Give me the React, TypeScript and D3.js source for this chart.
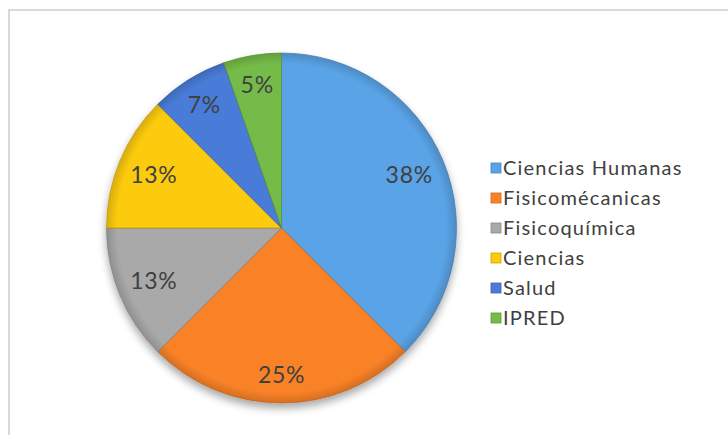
import React from "react";
import * as d3 from "d3";

const categories = ["Ciencias Humanas", "Fisicomécanicas", "Fisicoquímica", "Ciencias", "Salud", "IPRED"];
const counts = [21, 14, 7, 7, 4, 3];
const colors = ["#5aa3e6", "#fa8228", "#a9a9a9", "#fdcb0a", "#4a7cd8", "#74bb48"];

const W = 728;
const H = 435;
const CX = 281.5;
const CY = 228;
const R = 175;
const FONT = "Lato, 'Open Sans', sans-serif";

export default function App() {
  const total = d3.sum(counts);
  const pie = d3.pie<number>().sort(null).value((d) => d)(counts);
  const arc = d3.arc<d3.PieArcDatum<number>>().innerRadius(0).outerRadius(R);
  const labelPos = (d: d3.PieArcDatum<number>) => {
    const span = d.endAngle - d.startAngle;
    const a = (d.startAngle + d.endAngle) / 2;
    const bottom = -Math.cos(a);
    const k = span < 0.5 ? 0.83 : bottom > 0.9 ? 0.84 : 0.79;
    return [Math.sin(a) * R * k, -Math.cos(a) * R * k];
  };
  return (
    <svg width={W} height={H} style={{ position: "absolute", left: 0, top: 0, background: "#fff" }}>
      <defs>
        <filter id="shadow" x="-20%" y="-20%" width="140%" height="140%">
          <feGaussianBlur in="SourceAlpha" stdDeviation="4" />
          <feOffset dx="0" dy="5" result="b" />
          <feComponentTransfer>
            <feFuncA type="linear" slope="0.35" />
          </feComponentTransfer>
          <feMerge>
            <feMergeNode />
            <feMergeNode in="SourceGraphic" />
          </feMerge>
        </filter>
        {colors.map((c, i) => (
          <radialGradient key={i} id={`g${i}`} cx={0} cy={0} r={R} gradientUnits="userSpaceOnUse">
            <stop offset="0%" stopColor={c} />
            <stop offset="94%" stopColor={c} />
            <stop offset="100%" stopColor={d3.color(c)!.darker(0.45).toString()} />
          </radialGradient>
        ))}
      </defs>
      <rect x={9} y={10} width={W + 20} height={H + 20} fill="#fff" stroke="#d9d9d9" strokeWidth={2} />
      <g transform={`translate(${CX},${CY})`}>
        <g filter="url(#shadow)">
          {pie.map((d, i) => (
            <path
              key={i}
              d={arc(d) || ""}
              fill={`url(#g${i})`}
              stroke={d3.color(colors[i])!.darker(0.8).toString()}
              strokeWidth={1}
              strokeOpacity={0.7}
            />
          ))}
        </g>
        {pie.map((d, i) => {
          const [x, y] = labelPos(d);
          return (
            <text
              key={i}
              x={x}
              y={y}
              dy="0.35em"
              textAnchor="middle"
              fontFamily={FONT}
              fontSize={23}
              letterSpacing={0.7}
              fill="#404040"
            >
              {Math.round((d.data / total) * 100)}%
            </text>
          );
        })}
      </g>
      <g>
        {categories.map((c, i) => {
          const y = 168 + i * 30;
          return (
            <g key={c}>
              <rect
                x={491}
                y={y - 5}
                width={10}
                height={10}
                fill={colors[i]}
                stroke={d3.color(colors[i])!.darker(0.6).toString()}
                strokeWidth={0.8}
              />
              <text x={503} y={y} dy="0.35em" fontFamily={FONT} fontSize={20} letterSpacing={1.2} fill="#404040">
                {c}
              </text>
            </g>
          );
        })}
      </g>
    </svg>
  );
}
